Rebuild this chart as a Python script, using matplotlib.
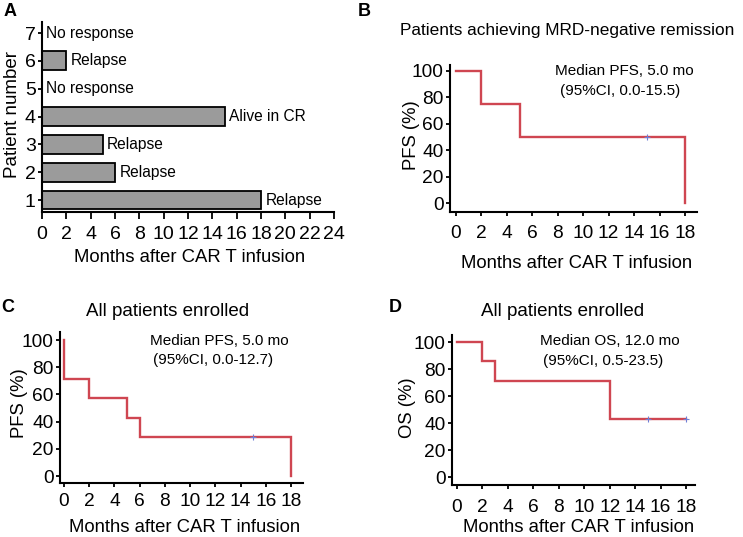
import matplotlib.pyplot as plt
import numpy as np

plt.rcParams['font.family'] = ['Liberation Sans', 'DejaVu Sans']

W, H = 743, 537

# ---- data ----
patients = [1, 2, 3, 4, 5, 6, 7]
months = [18, 6, 5, 15, 0, 2, 0]
outcomes = ["Relapse", "Relapse", "Relapse", "Alive in CR", "No response", "Relapse", "No response"]

# KM curves: step times and survival (%)
b_t = [0, 2, 5, 18, 18]
b_s = [100, 75, 50, 50, 0]
b_cens_t = [15]
b_cens_s = [50]

c_t = [0, 0, 2, 5, 6, 18, 18]
c_s = [100, 71.4, 57.1, 42.9, 28.6, 28.6, 0]
c_cens_t = [15]
c_cens_s = [28.6]

d_t = [0, 2, 3, 12, 18]
d_s = [100, 85.7, 71.4, 42.9, 42.9]
d_cens_t = [15, 18]
d_cens_s = [42.9, 42.9]

km_ticks_x = np.arange(0, 19, 2)
km_ticks_y = np.arange(0, 101, 20)

RED = '#cf4651'
BLUE = '#6f7fd6'


def ax_px(l, t, r, b):
    return fig.add_axes([l / W, 1 - b / H, (r - l) / W, (b - t) / H])


def ftext(x, y, s, **kw):
    kw.setdefault('ha', 'center')
    kw.setdefault('va', 'center')
    fig.text(x / W, 1 - y / H, s, **kw)


def style(ax, tick_size, xlen, ylen, xpad, ypad):
    for s in ['top', 'right']:
        ax.spines[s].set_visible(False)
    for s in ['left', 'bottom']:
        ax.spines[s].set_linewidth(1.5)
    ax.tick_params(width=1.3, labelsize=tick_size, colors='black')
    ax.tick_params(axis='x', length=xlen, pad=xpad)
    ax.tick_params(axis='y', length=ylen, pad=ypad)


def km(ax, t, s, ct, cs, xlim, ylim, xpad):
    ax.step(t, s, where='post', color=RED, lw=1.7, solid_joinstyle='miter')
    ax.plot(ct, cs, '+', color=BLUE, ms=5, mew=0.8)
    ax.set_xlim(*xlim)
    ax.set_ylim(*ylim)
    ax.set_xticks(km_ticks_x)
    ax.set_yticks(km_ticks_y)
    style(ax, 13.8, 3, 3, xpad, 1.5)


fig = plt.figure(figsize=(W / 100, H / 100), dpi=100)

# ---- A ----
axA = ax_px(42, 22, 334, 212)
axA.barh(patients, months, height=0.68, color='#9b9b9b', edgecolor='black', linewidth=1.3)
for p, m, o in zip(patients, months, outcomes):
    axA.text(m + 0.35, p, o, va='center', ha='left', fontsize=11.2)
axA.set_xlim(0, 24)
axA.set_ylim(0.57, 7.4)
axA.set_xticks(np.arange(0, 25, 2))
axA.set_yticks(patients)
style(axA, 14, 5, 3, 4.8, 1.5)
ftext(190, 258, 'Months after CAR T infusion', fontsize=13.3)
ftext(13, 115, 'Patient number', fontsize=13.5, rotation=90)

# ---- B ----
axB = ax_px(450, 65, 697, 212)
km(axB, b_t, b_s, b_cens_t, b_cens_s, (-0.47, 18.94), (-6.8, 104.5), 6)
ftext(567, 31, 'Patients achieving MRD-negative remission', fontsize=12.4)
ftext(577, 264, 'Months after CAR T infusion', fontsize=13.3)
ftext(412, 135, 'PFS (%)', fontsize=13.3, rotation=90)
ftext(555, 71, 'Median PFS, 5.0 mo', fontsize=11, ha='left')
ftext(560, 91, '(95%CI, 0.0-15.5)', fontsize=11, ha='left')

# ---- C ----
axC = ax_px(60, 332, 303, 483)
km(axC, c_t, c_s, c_cens_t, c_cens_s, (-0.32, 18.95), (-5.1, 105.9), 4)
ftext(168, 312, 'All patients enrolled', fontsize=13.5)
ftext(185, 527, 'Months after CAR T infusion', fontsize=13.3)
ftext(19, 403, 'PFS (%)', fontsize=13.3, rotation=90)
ftext(150, 341, 'Median PFS, 5.0 mo', fontsize=11, ha='left')
ftext(153, 360, '(95%CI, 0.0-12.7)', fontsize=11, ha='left')

# ---- D ----
axD = ax_px(452, 335, 695, 485)
km(axD, d_t, d_s, d_cens_t, d_cens_s, (-0.39, 18.7), (-5.9, 105.2), 7)
ftext(563, 312, 'All patients enrolled', fontsize=13.5)
ftext(579, 528, 'Months after CAR T infusion', fontsize=13.3)
ftext(407, 408, 'OS (%)', fontsize=13.3, rotation=90)
ftext(540, 341, 'Median OS, 12.0 mo', fontsize=11, ha='left')
ftext(543, 361, '(95%CI, 0.5-23.5)', fontsize=11, ha='left')

# panel letters
for lab, x, y in [('A', 10, 12), ('B', 364, 12), ('C', 8, 308), ('D', 395, 308)]:
    ftext(x, y, lab, fontsize=13, fontweight='bold')

fig.savefig('out.png', dpi=100)
